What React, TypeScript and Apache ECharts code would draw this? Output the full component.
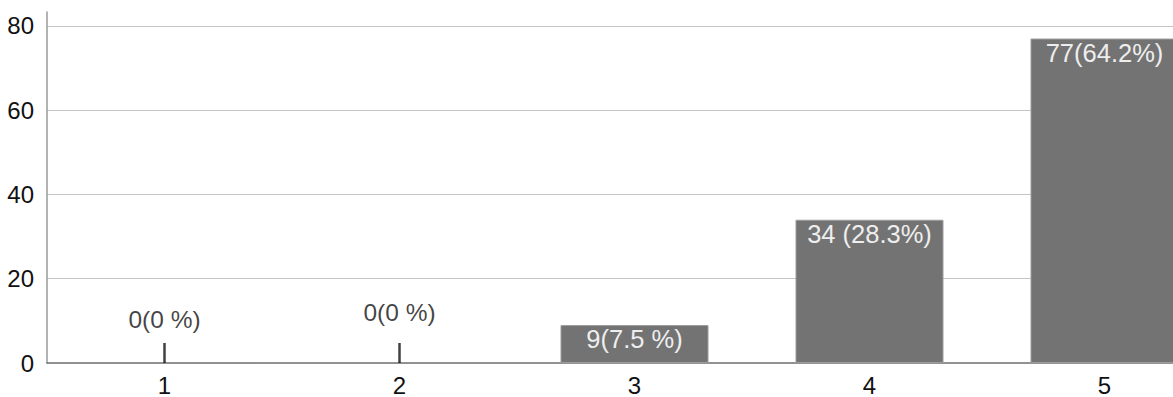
import React, { useEffect, useRef } from "react";
import * as echarts from "echarts";

// Ratings 1–5 and how many answers each got
const categories = ["1", "2", "3", "4", "5"];
const counts = [0, 0, 9, 34, 77];
const valueLabels = ["0(0 %)", "0(0 %)", "9(7.5 %)", "34 (28.3%)", "77(64.2%)"];
const yTicks = [0, 20, 40, 60, 80];
const yMax = 83.3;

const FONT = '"Liberation Sans", Helvetica, Arial, sans-serif';

export default function App() {
  const ref = useRef<HTMLDivElement>(null);

  useEffect(() => {
    if (!ref.current) return;
    const chart = echarts.init(ref.current, undefined, { renderer: "svg" });

    const barData = counts.map((v, i) =>
      v > 0 ? { value: v, label: { formatter: valueLabels[i] } } : { value: "-" }
    );
    // empty ratings are shown as a short stub with their label above it
    const stubDistances = [11, 18];
    const stubData = counts
      .map((v, i) => ({ v, i }))
      .filter((d) => d.v === 0)
      .map((d, k) => ({
        value: [categories[d.i], d.v],
        label: { formatter: valueLabels[d.i], distance: stubDistances[k] ?? 11 },
      }));

    chart.setOption({
      animation: false,
      grid: { left: 47, right: 10, top: 12, bottom: 34 },
      xAxis: {
        type: "category",
        data: categories,
        axisLine: { lineStyle: { color: "#6e6e6e", width: 1.5 } },
        axisTick: { show: false },
        axisLabel: { color: "#111", fontSize: 24, fontFamily: FONT, margin: 10 },
      },
      yAxis: {
        type: "value",
        min: 0,
        max: yMax,
        interval: 20,
        axisLine: { show: true, lineStyle: { color: "#9a9a9a", width: 1.5 } },
        axisTick: { show: false },
        splitLine: { show: false },
        axisLabel: {
          color: "#111",
          fontSize: 24,
          fontFamily: FONT,
          margin: 13,
          formatter: (v: number) => (yTicks.includes(v) ? String(v) : ""),
        },
      },
      series: [
        {
          type: "bar",
          data: barData,
          barWidth: 148,
          itemStyle: { color: "#737373", borderColor: "#9c9c9c", borderWidth: 1 },
          label: {
            show: true,
            position: "insideTop",
            distance: 1,
            color: "#eeeeee",
            fontSize: 25.5,
            fontFamily: FONT,
          },
          markLine: {
            silent: true,
            symbol: "none",
            label: { show: false },
            lineStyle: { color: "#c4c4c4", width: 1, type: "solid" },
            data: yTicks.filter((t) => t > 0).map((t) => ({ yAxis: t })),
            z: 0,
          },
          z: 2,
        },
        {
          type: "scatter",
          data: stubData,
          symbol: "rect",
          symbolSize: [2.5, 20],
          symbolOffset: [0, -10],
          itemStyle: { color: "#111" },
          label: {
            show: true,
            position: "top",
            color: "#111",
            fontSize: 24.5,
            fontFamily: FONT,
          },
          z: 3,
        },
      ],
    });

    return () => chart.dispose();
  }, []);

  // the plot runs a little past the right edge, so it is clipped by the frame
  return (
    <div
      style={{ position: "fixed", left: 0, top: 0, width: 1173, height: 397, overflow: "hidden", background: "#fff" }}
    >
      <div ref={ref} style={{ width: 1232, height: 397 }} />
    </div>
  );
}
